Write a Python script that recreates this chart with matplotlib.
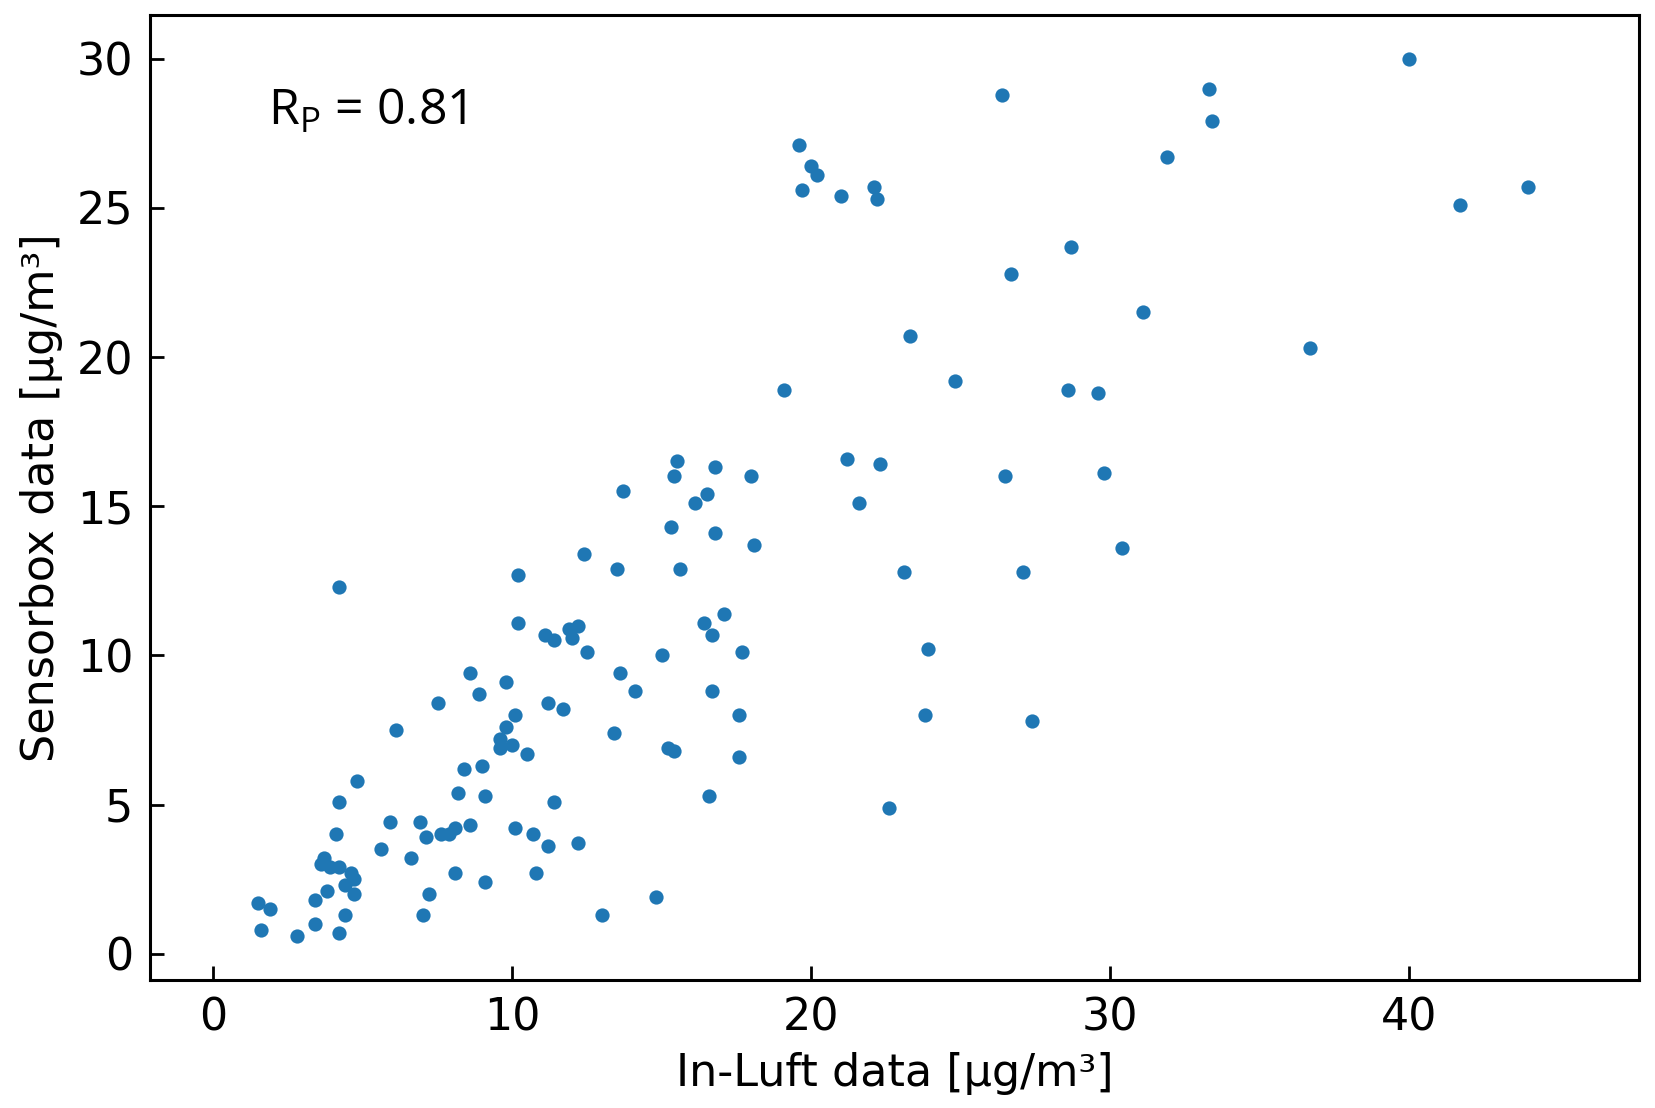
import matplotlib
matplotlib.use('Agg')
import matplotlib.pyplot as plt

# In-Luft vs. Sensorbox (µg/m³)
inluft = [40.0, 33.3, 33.4, 26.4, 19.6, 20.0, 20.2, 19.7, 21.0, 22.1,
          22.2, 31.9, 41.7, 44.0, 28.7, 26.7, 31.1, 23.3, 36.7, 24.8,
          19.1, 28.6, 29.6, 21.2, 22.3, 29.8, 26.5, 21.6, 30.4, 23.1,
          27.1, 23.9, 23.8, 27.4, 22.6, 15.5, 16.8, 15.4, 18.0, 13.7,
          16.5, 16.1, 15.3, 16.8, 18.1, 12.4, 10.2, 13.5, 15.6, 17.1,
          16.4, 16.7, 17.7, 10.2, 11.1, 11.4, 11.9, 12.2, 12.0, 12.5,
          15.0, 4.2, 8.6, 9.8, 8.9, 7.5, 11.2, 11.7, 10.1, 9.8,
          9.6, 9.6, 10.0, 10.5, 13.6, 14.1, 13.4, 16.7, 15.2, 15.4,
          16.6, 11.4, 8.4, 9.0, 8.2, 9.1, 12.2, 11.2, 10.7, 10.1,
          8.6, 10.8, 14.8, 13.0, 17.6, 17.6, 6.1, 4.8, 4.2, 4.1,
          3.7, 3.6, 3.9, 4.2, 4.6, 4.7, 4.4, 4.7, 3.8, 3.4,
          3.4, 4.4, 4.2, 2.8, 1.6, 1.5, 1.9, 5.6, 5.9, 6.9,
          7.1, 6.6, 7.2, 7.0, 7.6, 7.9, 8.1, 8.1, 9.1]
sensorbox = [30.0, 29.0, 27.9, 28.8, 27.1, 26.4, 26.1, 25.6, 25.4, 25.7,
             25.3, 26.7, 25.1, 25.7, 23.7, 22.8, 21.5, 20.7, 20.3, 19.2,
             18.9, 18.9, 18.8, 16.6, 16.4, 16.1, 16.0, 15.1, 13.6, 12.8,
             12.8, 10.2, 8.0, 7.8, 4.9, 16.5, 16.3, 16.0, 16.0, 15.5,
             15.4, 15.1, 14.3, 14.1, 13.7, 13.4, 12.7, 12.9, 12.9, 11.4,
             11.1, 10.7, 10.1, 11.1, 10.7, 10.5, 10.9, 11.0, 10.6, 10.1,
             10.0, 12.3, 9.4, 9.1, 8.7, 8.4, 8.4, 8.2, 8.0, 7.6,
             7.2, 6.9, 7.0, 6.7, 9.4, 8.8, 7.4, 8.8, 6.9, 6.8,
             5.3, 5.1, 6.2, 6.3, 5.4, 5.3, 3.7, 3.6, 4.0, 4.2,
             4.3, 2.7, 1.9, 1.3, 8.0, 6.6, 7.5, 5.8, 5.1, 4.0,
             3.2, 3.0, 2.9, 2.9, 2.7, 2.5, 2.3, 2.0, 2.1, 1.8,
             1.0, 1.3, 0.7, 0.6, 0.8, 1.7, 1.5, 3.5, 4.4, 4.4,
             3.9, 3.2, 2.0, 1.3, 4.0, 4.0, 4.2, 2.7, 2.4]
r_pearson = 0.81

fig = plt.figure(figsize=(16.56, 11.08), dpi=100)
ax = fig.add_axes([0.0906, 0.1155, 0.8991, 0.8711])

ax.scatter(inluft, sensorbox, s=105, color='#1f77b4', linewidths=0)

ax.set_xlim(-2.12, 47.7)
ax.set_ylim(-0.88, 31.47)
ax.set_xticks([0, 10, 20, 30, 40])
ax.set_yticks([0, 5, 10, 15, 20, 25, 30])
ax.tick_params(direction='in', length=10, width=2, labelsize=32, pad=12)

for sp in ax.spines.values():
    sp.set_linewidth(2.2)

ax.set_xlabel('In-Luft data [µg/m³]', fontsize=32, labelpad=9)
ax.set_ylabel('Sensorbox data [µg/m³]', fontsize=32, labelpad=10)

ax.text(0.0795, 0.886, r'R$_{\mathregular{P}}$ = %.2f' % r_pearson,
        transform=ax.transAxes, fontsize=36, family='Open Sans',
        ha='left', va='baseline')

plt.savefig('out.png', dpi=100)
